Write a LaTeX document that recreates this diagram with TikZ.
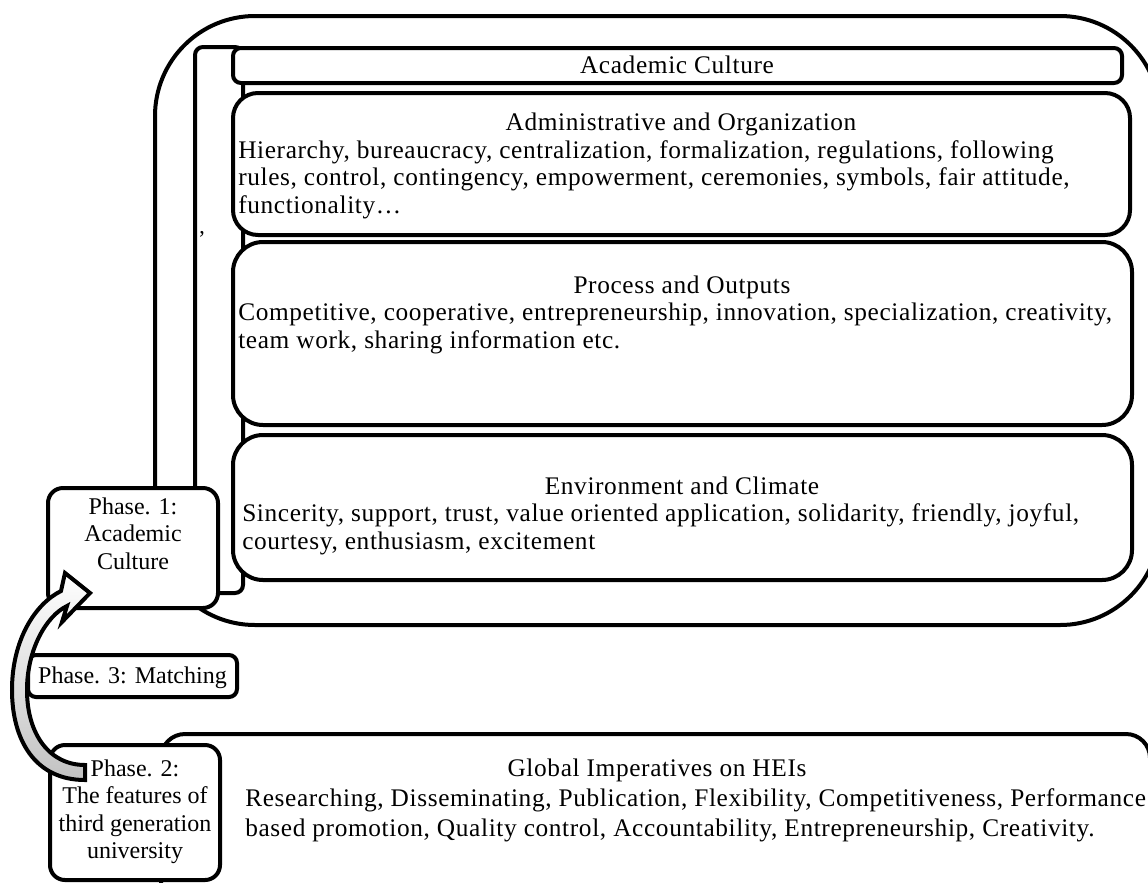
\documentclass[tikz,border=0pt]{standalone}
\usepackage{fontspec}
\setmainfont{Liberation Serif}
\newfontfamily\bodyfont[LetterSpace=2.5]{Liberation Serif}
\begin{document}
\begin{tikzpicture}[x=0.75pt,y=-0.75pt,
  rbox/.style={draw, fill=white, line width=3pt, inner sep=0pt, rounded corners=#1},
  rbox/.default=6pt,
  txt/.style={inner sep=0pt, font=\fontsize{18}{21}\selectfont},
  btxt/.style={inner sep=0pt, font=\bodyfont\fontsize{19}{21}\selectfont},
  lbl/.style={txt, anchor=base},
  blbl/.style={btxt, anchor=base},
  lft/.style={btxt, anchor=base west},
  blockarrow/.style={draw, line width=3pt, line join=miter, top color=white, middle color=white, bottom color=black!24}
]
\useasboundingbox (0,0) rectangle (1148,882);
\clip (0,0) rectangle (1148,882);

% outer frame
\node[rbox=75pt, minimum width=753.75pt, minimum height=456.75pt] (outer) at (657.5,320.5) {};
% inner narrow frame
\node[rbox=6pt, minimum width=36pt, minimum height=409.5pt] (frame) at (219,320) {};
\node[font=\fontsize{17}{17}\selectfont, inner sep=0pt] (tick) at (202,239) {’};

% academic culture title box
\node[rbox=6pt, minimum width=666.75pt, minimum height=26.25pt] (ac) at (677.5,65.5) {};
\node[blbl] (actitle) at (677,73) {Academic Culture};

% administrative
\node[rbox=18.75pt, minimum width=672.75pt, minimum height=106.5pt] (admin) at (681.5,164) {};
\node[blbl] (admint) at (681,130) {Administrative and Organization};
\node[lft] (ad1) at (238,158) {Hierarchy, bureaucracy, centralization, formalization, regulations, following};
\node[lft] (ad2) at (238,185.5) {rules, control, contingency, empowerment, ceremonies, symbols, fair attitude,};
\node[lft] (ad3) at (238,213) {functionality…};

% process
\node[rbox=22.5pt, minimum width=674.25pt, minimum height=137.25pt] (proc) at (682.5,333.5) {};
\node[blbl] (proct) at (682,293) {Process and Outputs};
\node[lft] (pr1) at (238,320.5) {Competitive, cooperative, entrepreneurship, innovation, specialization, creativity,};
\node[lft] (pr2) at (238,348) {team work, sharing information etc.};

% environment
\node[rbox=22.5pt, minimum width=674.25pt, minimum height=108.75pt] (env) at (682.5,507.5) {};
\node[blbl] (envt) at (682,494) {Environment and Climate};
\node[lft] (en1) at (242,521.5) {Sincerity, support, trust, value oriented application, solidarity, friendly, joyful,};
\node[lft] (en2) at (242,549) {courtesy, enthusiasm, excitement};

% phase 1
\node[rbox=11.25pt, minimum width=127.5pt, minimum height=90pt] (ph1) at (133,548) {};
\node[lbl] (ph1a) at (133,514) {Phase. 1:};
\node[lbl] (ph1b) at (133,541.5) {Academic};
\node[lbl] (ph1c) at (133,569) {Culture};

% global imperatives
\node[rbox=18pt, minimum width=741.75pt, minimum height=139.5pt] (gi) at (655.5,827) {};
\node[blbl] (git) at (657,776) {Global Imperatives on HEIs};
\node[lft] (gi1) at (245,806) {Researching, Disseminating, Publication, Flexibility, Competitiveness, Performance};
\node[lft] (gi2) at (245,836) {based promotion, Quality control, Accountability, Entrepreneurship, Creativity.};

% phase 2
\node[rbox=11.25pt, minimum width=127.5pt, minimum height=101.25pt] (ph2) at (135,812.5) {};
\node[lbl] (ph2a) at (135,776) {Phase. 2:};
\node[lbl] (ph2b) at (135,803.5) {The features of};
\node[lbl] (ph2c) at (135,831) {third generation};
\node[lbl] (ph2d) at (135,858.5) {university};

% phase 3
\node[rbox=6pt, minimum width=156.75pt, minimum height=31.5pt] (ph3) at (132.5,676) {};
\node[lbl] (ph3t) at (132.5,683) {Phase. 3: Matching};

% curved block arrow from phase 2 to phase 1
\path[blockarrow] (85,780) .. controls (35,780) and (12,740) .. (12,690)
  .. controls (12,640) and (35,604) .. (61,591)
  -- (65,573) -- (90,593) -- (62,622) -- (67,606)
  .. controls (46,616) and (27,650) .. (27,690)
  .. controls (27,735) and (50,765) .. (85,765) -- cycle;
\end{tikzpicture}
\end{document}
